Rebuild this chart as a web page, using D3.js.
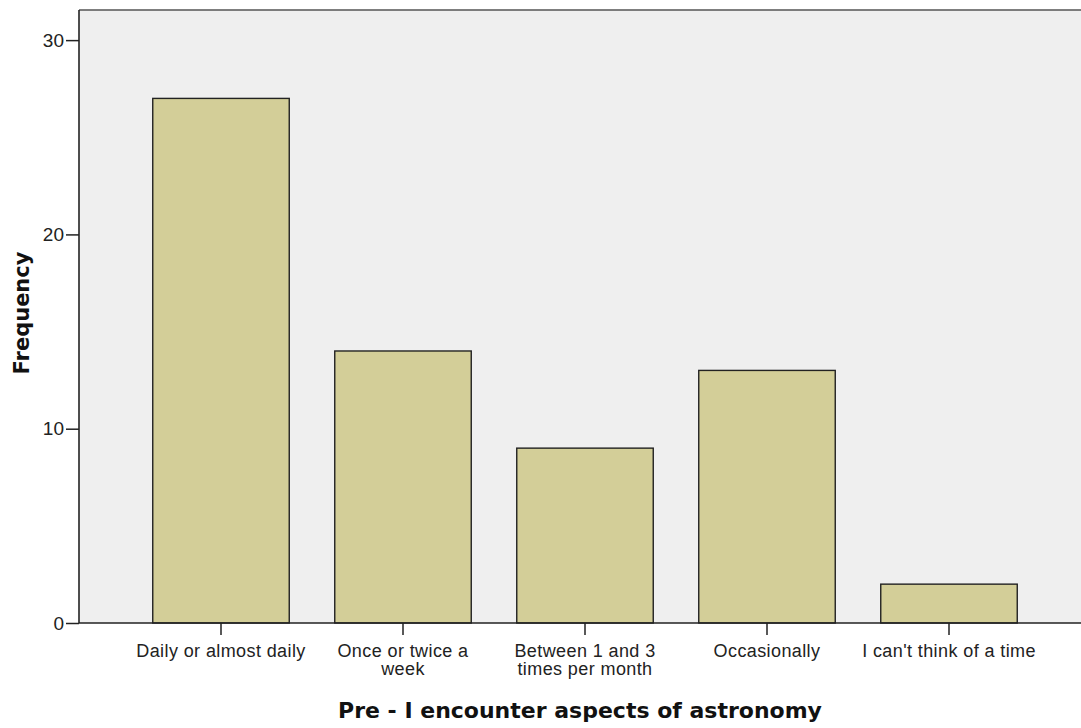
<!DOCTYPE html>
<html>
<head>
<meta charset="utf-8">
<script src="https://cdn.jsdelivr.net/npm/d3@7"></script>
<style>
  body { margin: 0; background: #fff; }
  svg { display: block; }
</style>
</head>
<body>
<div id="chart"></div>
<script>
// data
var categories = ["Daily or almost daily", "Once or twice a week", "Between 1 and 3 times per month", "Occasionally", "I can't think of a time"];
var labelLines = [["Daily or almost daily"], ["Once or twice a", "week"], ["Between 1 and 3", "times per month"], ["Occasionally"], ["I can't think of a time"]];
var frequency = [27, 14, 9, 13, 2];
var yTicks = [0, 10, 20, 30];
var xTitle = "Pre - I encounter aspects of astronomy";
var yTitle = "Frequency";

var W = 1081, H = 728;
var plot = {left: 79, top: 10, right: 1085, bottom: 623};

var svg = d3.select("#chart").append("svg")
    .attr("width", W)
    .attr("height", H);

var x = d3.scaleBand()
    .domain(categories)
    .range([130, 1040])
    .paddingInner(0.25)
    .paddingOuter(0.125);

var y = d3.scaleLinear()
    .domain([0, 31.55])
    .range([plot.bottom, plot.top]);

// plot background
svg.append("rect")
    .attr("x", plot.left)
    .attr("y", plot.top)
    .attr("width", plot.right - plot.left)
    .attr("height", plot.bottom - plot.top)
    .attr("fill", "#efefef");

// top frame line
svg.append("line")
    .attr("x1", plot.left).attr("x2", plot.right)
    .attr("y1", plot.top).attr("y2", plot.top)
    .attr("stroke", "#555")
    .attr("stroke-width", 1.5);

// bars
svg.selectAll(".bar")
    .data(frequency)
    .enter().append("rect")
    .attr("class", "bar")
    .attr("x", function(d, i) { return x(categories[i]); })
    .attr("width", x.bandwidth())
    .attr("y", function(d) { return y(d); })
    .attr("height", function(d) { return y(0) - y(d); })
    .attr("fill", "#d3ce98")
    .attr("stroke", "#222")
    .attr("stroke-width", 1.4);

// y axis
var yAxis = svg.append("g")
    .attr("transform", "translate(" + plot.left + ",0)")
    .call(d3.axisLeft(y).tickValues(yTicks).tickSize(13).tickPadding(2).tickFormat(d3.format("d")));
yAxis.select(".domain").remove();
yAxis.append("line")
    .attr("x1", 0).attr("x2", 0)
    .attr("y1", plot.top).attr("y2", plot.bottom)
    .attr("stroke", "#222").attr("stroke-width", 1.6);
yAxis.selectAll(".tick line").attr("stroke", "#222").attr("stroke-width", 1.5);
yAxis.selectAll(".tick text")
    .attr("fill", "#222")
    .style("font-family", "'Liberation Sans', Arial, sans-serif")
    .style("font-size", "19px");

// x axis
var xAxis = svg.append("g")
    .attr("transform", "translate(0," + plot.bottom + ")")
    .call(d3.axisBottom(x).tickSize(12).tickFormat(""));
xAxis.select(".domain").remove();
xAxis.append("line")
    .attr("x1", plot.left).attr("x2", plot.right)
    .attr("y1", 0).attr("y2", 0)
    .attr("stroke", "#222").attr("stroke-width", 1.6);
xAxis.selectAll(".tick line").attr("stroke", "#222").attr("stroke-width", 1.5);

xAxis.selectAll(".tick text").remove();
xAxis.selectAll(".tick").each(function(d, i) {
    var t = d3.select(this).append("text")
        .attr("fill", "#222")
        .attr("text-anchor", "middle")
        .style("font-family", "'Liberation Sans', Arial, sans-serif")
        .style("font-size", "18px")
        .style("letter-spacing", "0.4px");
    labelLines[i].forEach(function(line, j) {
        t.append("tspan")
            .attr("x", 0)
            .attr("y", 34 + j * 18)
            .text(line);
    });
});

// axis titles
svg.append("text")
    .attr("x", 580)
    .attr("y", 718)
    .attr("text-anchor", "middle")
    .attr("fill", "#111")
    .style("font-family", "'DejaVu Sans', sans-serif")
    .style("font-weight", "bold")
    .style("font-size", "22px")
    .text(xTitle);

svg.append("text")
    .attr("transform", "translate(29," + 313 + ") rotate(-90)")
    .attr("text-anchor", "middle")
    .attr("fill", "#111")
    .style("font-family", "'DejaVu Sans', sans-serif")
    .style("font-weight", "bold")
    .style("font-size", "21px")
    .text(yTitle);
</script>
</body>
</html>
